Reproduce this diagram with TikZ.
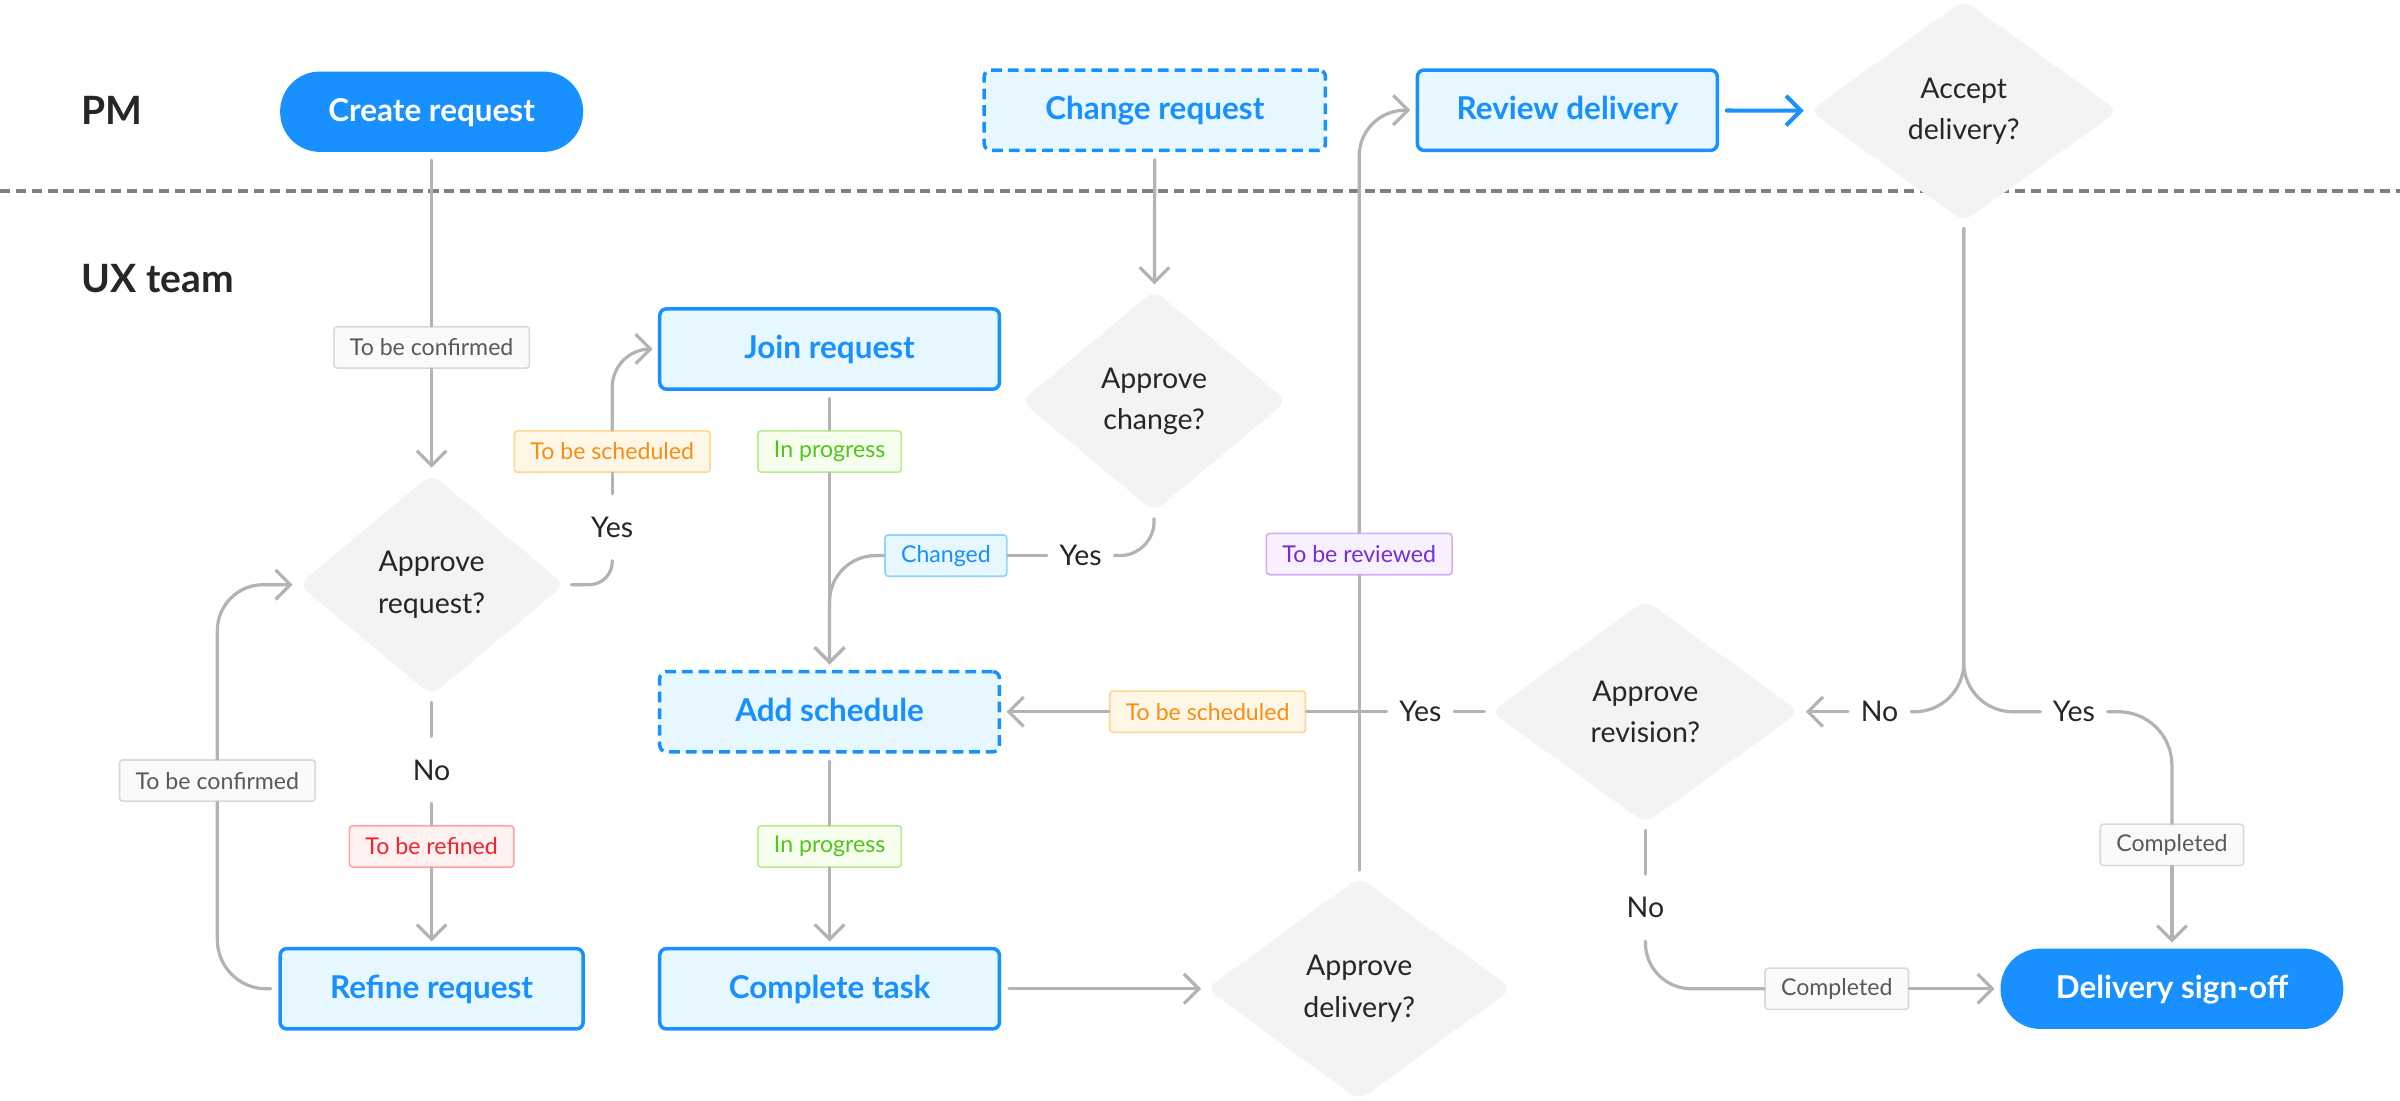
\documentclass[tikz,border=0pt]{standalone}
\usepackage{fontspec}
\setmainfont{Lato}
\usetikzlibrary{arrows.meta,shapes.geometric}
\definecolor{brand}{HTML}{1890FF}
\definecolor{paleblue}{HTML}{E6F7FF}
\definecolor{decisionfill}{HTML}{F3F3F3}
\definecolor{linegray}{HTML}{B3B3B3}
\definecolor{lanegray}{HTML}{7F7F7F}
\definecolor{ink}{HTML}{262626}
\definecolor{grayfill}{HTML}{FAFAFA}
\definecolor{grayline}{HTML}{D9D9D9}
\definecolor{graytext}{HTML}{595959}
\definecolor{orangefill}{HTML}{FFF7E6}
\definecolor{orangeline}{HTML}{FFD591}
\definecolor{orangetext}{HTML}{FA8C16}
\definecolor{greenfill}{HTML}{F6FFED}
\definecolor{greenline}{HTML}{B7EB8F}
\definecolor{greentext}{HTML}{52C41A}
\definecolor{bluefill}{HTML}{E6F7FF}
\definecolor{blueline}{HTML}{91D5FF}
\definecolor{redfill}{HTML}{FFF1F0}
\definecolor{redline}{HTML}{FFA39E}
\definecolor{redtext}{HTML}{F5222D}
\definecolor{purplefill}{HTML}{F9F0FF}
\definecolor{purpleline}{HTML}{D3ADF7}
\definecolor{purpletext}{HTML}{722ED1}

\begin{document}
\begin{tikzpicture}[x=0.02cm, y=-0.02cm, >={Straight Barb[length=5.5pt,width=11pt]}]
	\tikzstyle{lane} = [anchor=west, inner sep=0pt, text=ink, font=\bfseries\fontsize{14.5}{17}\selectfont]
	\tikzstyle{divider} = [draw=lanegray, line width=1.4pt, dash pattern=on 3.8pt off 2.1pt]
	\tikzstyle{pill} = [rectangle, rounded corners=0.52cm, fill=brand, text=white, minimum height=1.05cm, text height=0.72em, text depth=0pt, font=\bfseries\fontsize{11.7}{13}\selectfont]
	\tikzstyle{rect} = [rectangle, rounded corners=2.5pt, draw=brand, line width=1.3pt, fill=paleblue, text=brand, minimum height=1.05cm, text height=0.72em, text depth=0pt, font=\bfseries\fontsize{11.7}{13}\selectfont]
	\tikzstyle{drect} = [rect, dash pattern=on 4pt off 2.2pt]
	\tikzstyle{decision} = [diamond, rounded corners=4pt, fill=decisionfill, text=ink, align=center, inner sep=0pt, minimum height=2.9cm, font=\fontsize{10.6}{15.3}\selectfont]
	\tikzstyle{tag} = [rectangle, rounded corners=1.2pt, line width=0.6pt, inner xsep=0.21cm, minimum height=0.54cm, font=\fontsize{8.6}{10}\selectfont]
	\tikzstyle{graytag} = [tag, draw=grayline, fill=grayfill, text=graytext]
	\tikzstyle{orangetag} = [tag, draw=orangeline, fill=orangefill, text=orangetext]
	\tikzstyle{greentag} = [tag, draw=greenline, fill=greenfill, text=greentext]
	\tikzstyle{bluetag} = [tag, draw=blueline, fill=bluefill, text=brand]
	\tikzstyle{redtag} = [tag, draw=redline, fill=redfill, text=redtext]
	\tikzstyle{purpletag} = [tag, draw=purpleline, fill=purplefill, text=purpletext]
	\tikzstyle{answer} = [rectangle, inner xsep=0.16cm, minimum height=0.86cm, text=ink, font=\fontsize{10.6}{12}\selectfont]
	\tikzstyle{flow} = [draw=linegray, line width=1.2pt, line cap=round, line join=round]
	\tikzstyle{edge} = [flow, ->, shorten >=0.07cm]
	\useasboundingbox (0,0) rectangle (1568,719);
	\draw[divider] (0,125) -- (1568,125);
	\node[lane](pm) at (53,72){PM};
	\node[lane](ux) at (53,182){UX team};
	\node[pill, minimum width=3.96cm](create) at (282,73){Create request};
	\node[drect, minimum width=4.46cm](chgreq) at (754.5,72){Change request};
	\node[rect, minimum width=3.92cm](review) at (1024,72){Review delivery};
	\node[decision, minimum width=4.04cm](accept) at (1283,72.5){Accept\\delivery?};
	\node[rect, minimum width=4.44cm](join) at (542,228){Join request};
	\node[decision, minimum width=3.48cm](achg) at (754,262){Approve\\change?};
	\node[decision, minimum width=3.48cm](areq) at (282,382){Approve\\request?};
	\node[drect, minimum width=4.44cm](addsch) at (542,465){Add schedule};
	\node[decision, minimum width=4.04cm, minimum height=2.92cm](arev) at (1075,465){Approve\\revision?};
	\node[rect, minimum width=3.96cm](refine) at (282,646){Refine request};
	\node[rect, minimum width=4.44cm](complete) at (542,646){Complete task};
	\node[decision, minimum width=4.0cm, minimum height=2.92cm](adel) at (888,646){Approve\\delivery?};
	\node[pill, minimum width=4.48cm](signoff) at (1419,646){Delivery sign-off};
	\node[graytag](tbc1) at (282,227){To be confirmed};
	\node[orangetag](tbs1) at (400,295){To be scheduled};
	\node[answer](yes1) at (400,344.5){Yes};
	\node[greentag](inp1) at (542,295){In progress};
	\node[bluetag](chgd) at (618,363){Changed};
	\node[answer](yes2) at (706,363){Yes};
	\node[purpletag](tbr) at (888,362){To be reviewed};
	\node[answer](yes3) at (928,465){Yes};
	\node[orangetag](tbs2) at (789,465){To be scheduled};
	\node[answer](no1) at (282,503){No};
	\node[redtag](tbf) at (282,553){To be refined};
	\node[graytag](tbc2) at (142,510){To be confirmed};
	\node[greentag](inp2) at (542,553){In progress};
	\node[answer](no2) at (1228,465){No};
	\node[answer](yes4) at (1355,465){Yes};
	\node[graytag](cmp1) at (1419,552){Completed};
	\node[answer](no3) at (1075,593){No};
	\node[graytag](cmp2) at (1200,646){Completed};
	\draw[flow, shorten <=0.1cm] (create) -- (tbc1);
	\draw[edge] (tbc1) -- (areq);
	\draw[flow, rounded corners=0.3cm, shorten <=0.08cm] (areq.east) -| (yes1.south);
	\draw[flow] (yes1) -- (tbs1);
	\draw[edge, rounded corners=0.5cm] (tbs1.north) |- (join.west);
	\draw[flow, shorten <=0.1cm] (join) -- (inp1);
	\draw[edge] (inp1) -- (addsch);
	\draw[edge, shorten <=0.1cm] (chgreq) -- (achg);
	\draw[flow, rounded corners=0.45cm, shorten <=0.08cm] (achg.south) |- (yes2.east);
	\draw[flow] (yes2) -- (chgd);
	\draw[edge, rounded corners=0.6cm] (chgd.west) -| (addsch.north);
	\draw[flow, shorten <=0.1cm] (addsch) -- (inp2);
	\draw[edge] (inp2) -- (complete);
	\draw[edge, shorten <=0.1cm, shorten >=0.06cm] (complete) -- (adel);
	\draw[flow, shorten <=0.08cm] (adel) -- (tbr);
	\draw[edge, rounded corners=0.6cm] (tbr.north) |- (review.west);
	\draw[edge, draw=brand, line width=1.5pt, shorten <=0.1cm] (review) -- (accept);
	\draw[flow, rounded corners=0.64cm, shorten <=0.08cm] (accept.south) |- (no2.east);
	\draw[flow, rounded corners=0.64cm, shorten <=0.08cm] (accept.south) |- (yes4.west);
	\draw[edge] (no2) -- (arev);
	\draw[flow, rounded corners=0.7cm] (yes4.east) -| (cmp1.north);
	\draw[edge] (cmp1) -- (signoff);
	\draw[flow, shorten <=0.08cm] (arev) -- (yes3);
	\draw[flow] (yes3) -- (tbs2);
	\draw[edge] (tbs2) -- (addsch);
	\draw[flow, shorten <=0.08cm] (areq) -- (no1);
	\draw[flow] (no1) -- (tbf);
	\draw[edge] (tbf) -- (refine);
	\draw[flow, rounded corners=0.64cm, shorten <=0.1cm] (refine.west) -| (tbc2.south);
	\draw[edge, rounded corners=0.6cm] (tbc2.north) |- (areq.west);
	\draw[flow, shorten <=0.08cm] (arev) -- (no3);
	\draw[flow, rounded corners=0.6cm] (no3.south) |- (cmp2.west);
	\draw[edge] (cmp2) -- (signoff);
\end{tikzpicture}
\end{document}
